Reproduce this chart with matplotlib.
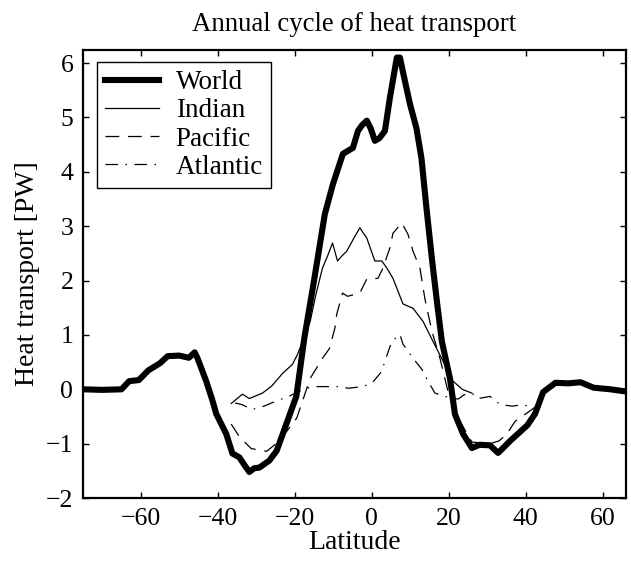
import matplotlib
matplotlib.use("Agg")
import matplotlib.pyplot as plt

plt.rcParams['font.family'] = ['Liberation Serif', 'DejaVu Serif']
plt.rcParams['mathtext.fontset'] = 'stix'

# Verden (total)
world_lat = [-75, -70, -65, -63, -60.5, -58, -55, -53, -50, -47.5, -46, -45.3,
             -43, -41.4, -40.4, -37.8, -36.2, -34.4, -33, -31.8, -30.5, -29.2,
             -26.6, -24.7, -22, -19.6, -17.5, -15, -12.2, -10.1, -7.5, -4.9,
             -3.6, -2.5, -1.3, -0.3, 0.8, 2, 3.4, 4.7, 6.5, 7.3, 8.2, 9.9,
             11.6, 12.9, 14.2, 15.6, 16.9, 18.2, 20.3, 21.6, 23.7, 26, 28,
             30.7, 32.8, 35.9, 40.4, 42.4, 44.5, 47.7, 51, 54.2, 57.6, 62, 66]
world = [0.0, -0.01, 0.0, 0.15, 0.17, 0.35, 0.48, 0.61, 0.62, 0.58, 0.68, 0.58,
         0.15, -0.2, -0.45, -0.82, -1.18, -1.25, -1.4, -1.52, -1.45, -1.44,
         -1.31, -1.13, -0.6, -0.13, 0.95, 2.0, 3.22, 3.77, 4.33, 4.44,
         4.75, 4.86, 4.94, 4.8, 4.57, 4.62, 4.75, 5.36, 6.1, 6.1, 5.8, 5.25,
         4.8, 4.25, 3.33, 2.41, 1.62, 0.88, 0.2, -0.46, -0.82, -1.08, -1.02,
         -1.03, -1.17, -0.95, -0.66, -0.45, -0.05, 0.12, 0.11, 0.13, 0.03, 0.0, -0.04]

# Indiahavet
indian_lat = [-36.5, -33.6, -31.8, -28.4, -26, -23.2, -20.6, -19.3, -16, -14.5,
              -12.8, -11.5, -10.2, -8.9, -7.8, -6.5, -4.5, -3.1, -1.3, 0.8,
              2.6, 3.9, 5.5, 8.1, 10.7, 13.3, 15.9, 18.5, 21.1, 23.5, 26]
indian = [-0.26, -0.09, -0.17, -0.07, 0.06, 0.29, 0.46, 0.64, 1.25, 1.75,
          2.23, 2.45, 2.69, 2.36, 2.45, 2.54, 2.8, 2.97, 2.78, 2.36,
          2.36, 2.23, 2.04, 1.57, 1.49, 1.25, 0.88, 0.52, 0.15, 0.0, -0.07]

# Stillehavet
pacific_lat = [-36.5, -34.4, -33, -31.3, -27.3, -24, -19.5, -18.2, -16, -12.8,
               -11, -9.6, -9.1, -7.6, -6.3, -3.1, -1.3, 1.6, 2.9, 4.7, 5.5,
               7.8, 9.4, 10.7, 12.5, 13.8, 15.6, 17.7, 20, 23, 26, 30.7, 33,
               35, 37.2, 41, 43]
pacific = [-0.64, -0.87, -0.97, -1.09, -1.14, -0.95, -0.53, -0.26, 0.2, 0.57,
           0.75, 1.12, 1.38, 1.77, 1.71, 1.77, 2.03, 2.04, 2.23, 2.6, 2.87,
           3.06, 2.85, 2.54, 2.23, 1.66, 1.07, 0.57, -0.1, -0.6, -0.97, -1.0, -0.95,
           -0.83, -0.59, -0.4, -0.3]

# Atlanterhavet
atlantic_lat = [-35.5, -33.8, -31, -28, -25, -21.5, -19, -15.5, -12.5, -9, -6,
                -2.5, 0, 2.6, 3.4, 5.2, 7.3, 8.1, 10.7, 13, 14.6, 16.4, 19,
                22.4, 24, 26, 27.6, 30.7, 33.3, 36.5, 39.3, 42, 43.5]
atlantic = [-0.25, -0.28, -0.37, -0.31, -0.22, -0.13, -0.04, 0.05, 0.05, 0.05,
            0.02, 0.05, 0.11, 0.33, 0.52, 0.88, 1.01, 0.83, 0.57, 0.37, 0.15,
            -0.07, -0.13, -0.18, -0.1, -0.07, -0.17, -0.13, -0.28, -0.31, -0.28,
            -0.35, -0.3]

fig = plt.figure(figsize=(6.31, 5.66), dpi=100)
ax = fig.add_axes([0.1315, 0.12, 0.8605, 0.7917])

ax.plot(world_lat, world, color='black', lw=4.4, label='World',
        solid_joinstyle='round')
ax.plot(indian_lat, indian, color='black', lw=0.9, label='Indian')
ax.plot(pacific_lat, pacific, color='black', lw=0.9, ls=(0, (11, 7)),
        label='Pacific')
ax.plot(atlantic_lat, atlantic, color='black', lw=0.9,
        ls=(0, (10, 6, 1.2, 6)), label='Atlantic')

ax.set_xlim(-75, 66)
ax.set_ylim(-2, 6.24)
ax.set_xticks([-60, -40, -20, 0, 20, 40, 60])
ax.set_yticks([-2, -1, 0, 1, 2, 3, 4, 5, 6])
ax.tick_params(direction='in', top=True, right=True, length=4, width=1,
               labelsize=18.5, pad=7)
for s in ax.spines.values():
    s.set_linewidth(1.6)

ax.set_title('Annual cycle of heat transport', fontsize=19.3, pad=14)
ax.set_xlabel('Latitude', fontsize=20, labelpad=0)
ax.set_ylabel('Heat transport [PW]', fontsize=20, labelpad=4)

leg = ax.legend(loc='upper left', bbox_to_anchor=(0.026, 0.973),
                borderaxespad=0, fontsize=19.5, fancybox=False,
                edgecolor='black', framealpha=1, handlelength=2.0,
                handletextpad=0.6, labelspacing=0.12, borderpad=0.3)
leg.get_frame().set_linewidth(1.0)

fig.savefig('out.png', dpi=100)
